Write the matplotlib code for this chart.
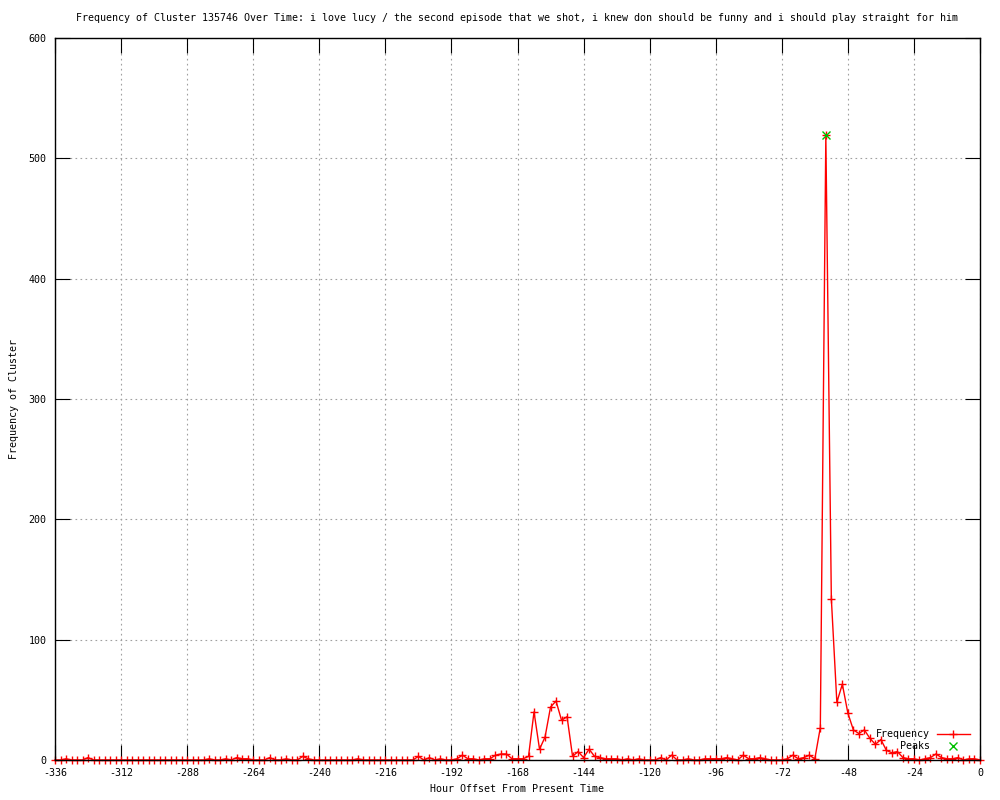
import matplotlib
matplotlib.use('Agg')
import matplotlib.pyplot as plt
import numpy as np

plt.rcParams['font.family'] = ['DejaVu Sans Mono']
plt.rcParams['font.size'] = 7.2
plt.rcParams['axes.unicode_minus'] = False

title = ("Frequency of Cluster 135746 Over Time: i love lucy / the second episode "
         "that we shot, i knew don should be funny and i should play straight for him")

# hour offsets, every 2 hours from -336 to 0
hours = list(range(-336, 1, 2))
freq = [0, 0, 1, 0, 0, 0, 2, 0, 0, 0, 0, 0,        # -336 .. -314
        0, 0, 0, 0, 0, 0, 0, 0, 0, 0, 0, 0,        # -312 .. -290
        0, 0, 0, 0, 1, 0, 0, 1, 0, 2, 1, 1,        # -288 .. -266
        0, 0, 0, 2, 0, 0, 1, 0, 0, 3, 1, 0,        # -264 .. -242
        0, 0, 0, 0, 0, 0, 0, 1, 0, 0, 0, 0,        # -240 .. -218
        0, 0, 0, 0, 0, 0, 3, 0, 2, 0, 1, 0,        # -216 .. -194
        0, 1, 4, 1, 1, 0, 1, 1, 4, 5, 5, 1,        # -192 .. -170
        1, 1, 3, 40, 9, 19, 44, 49, 33, 36, 3, 7,  # -168 .. -146
        2, 9, 3, 2, 1, 1, 1, 0, 1, 0, 1, 0,        # -144 .. -122
        0, 0, 2, 0, 4, 0, 0, 1, 0, 0, 1, 1,        # -120 .. -98
        1, 1, 2, 1, 0, 4, 1, 1, 2, 1, 0, 0,        # -96 .. -74
        0, 1, 4, 1, 2, 4, 1, 27, 519, 134, 48, 63, # -72 .. -50
        39, 25, 22, 25, 18, 13, 17, 8, 6, 7, 2, 1, # -48 .. -26
        1, 0, 1, 2, 5, 2, 1, 1, 2, 0, 1, 1,        # -24 .. -2
        0]                                          # 0

peak_hours = [-56]
peak_vals = [519]

xticks = list(range(-336, 1, 24))
yticks = list(range(0, 601, 100))

fig = plt.figure(figsize=(10, 8), dpi=100)
ax = fig.add_axes([0.055, 0.05, 0.925, 0.9025])

ax.plot(hours, freq, color='#ff0000', lw=1.0, marker='+', ms=5.5, mew=1.0,
        clip_on=False, label='Frequency', zorder=2)
ax.plot(peak_hours, peak_vals, color='#00c000', lw=0, marker='x', ms=5.5,
        mew=1.0, clip_on=False, label='Peaks', zorder=3)

ax.set_xlim(-336, 0)
ax.set_ylim(0, 600)
ax.set_xticks(xticks)
ax.set_yticks(yticks)
ax.tick_params(direction='in', length=11, width=0.8, top=True, right=True,
               labelsize=7.2, pad=6, colors='black')
ax.grid(True, color='#a0a0a0', lw=0.8, linestyle=(0, (1.5, 3.0)))
ax.set_axisbelow(True)
for s in ax.spines.values():
    s.set_linewidth(1.0)
    s.set_color('black')

ax.set_xlabel('Hour Offset From Present Time', labelpad=4)
ax.set_ylabel('Frequency of Cluster', labelpad=7)
fig.text(0.5175, 1 - 18 / 800, title, ha='center', va='center', fontsize=7.2)

ax.legend(loc='lower right', bbox_to_anchor=(0.989, 0.012), frameon=False,
          markerfirst=False, handlelength=3.3, handletextpad=0.7,
          labelspacing=0.2, borderaxespad=0, borderpad=0, fontsize=7.2)

fig.savefig('out.png', dpi=100)
